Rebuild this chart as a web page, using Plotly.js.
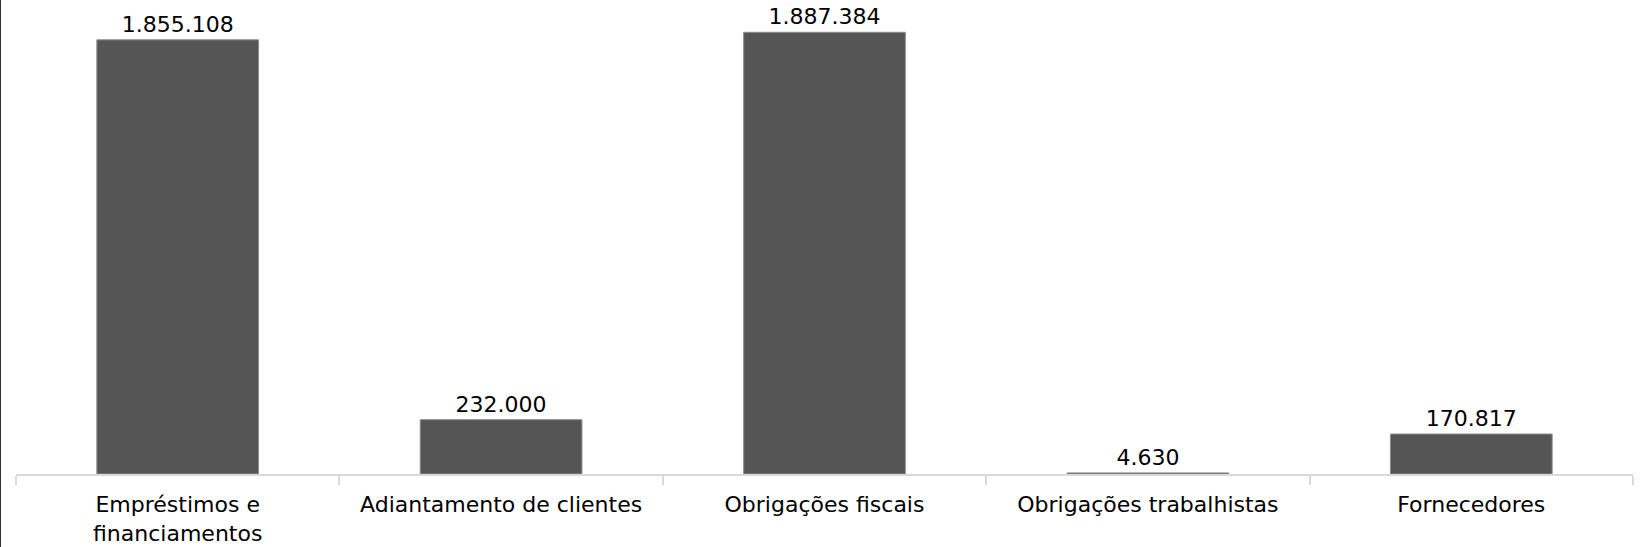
<!DOCTYPE html>
<html>
<head>
<meta charset="utf-8">
<script src="https://cdn.plot.ly/plotly-3.0.1.min.js"></script>
<style>
html,body{margin:0;padding:0;background:#fff;}
#chart{width:1641px;height:547px;box-sizing:border-box;border-left:1px solid #333;}
</style>
</head>
<body>
<div id="chart"></div>
<script>
const categories = ["Empréstimos e<br>financiamentos", "Adiantamento de clientes", "Obrigações fiscais", "Obrigações trabalhistas", "Fornecedores"];
const values = [1855108, 232000, 1887384, 4630, 170817];
const valueLabels = ["1.855.108", "232.000", "1.887.384", "4.630", "170.817"];

const FONT = '"DejaVu Sans", sans-serif';

const trace = {
  type: 'bar',
  x: categories,
  y: values,
  text: valueLabels,
  textposition: 'outside',
  cliponaxis: false,
  textfont: {family: FONT, size: 22, color: '#000'},
  marker: {color: '#555555', line: {color: '#8c8c8c', width: 1}},
  hoverinfo: 'none'
};

const layout = {
  width: 1640,
  height: 547,
  margin: {l: 15, r: 8, t: 10, b: 73},
  paper_bgcolor: '#fff',
  plot_bgcolor: '#fff',
  bargap: 0.5,
  showlegend: false,
  font: {family: FONT, size: 22, color: '#000'},
  xaxis: {
    showline: true, linecolor: '#d9d9d9', linewidth: 2,
    ticks: 'outside', tickson: 'boundaries', ticklen: 9, tickcolor: '#d9d9d9', tickwidth: 2,
    ticklabelstandoff: 10,
    tickfont: {family: FONT, size: 22, color: '#000'},
    showgrid: false, zeroline: false, fixedrange: true
  },
  yaxis: {
    range: [0, 1982650], visible: false, showgrid: false, zeroline: false, fixedrange: true
  }
};

Plotly.newPlot('chart', [trace], layout, {displayModeBar: false, staticPlot: true});
</script>
</body>
</html>
